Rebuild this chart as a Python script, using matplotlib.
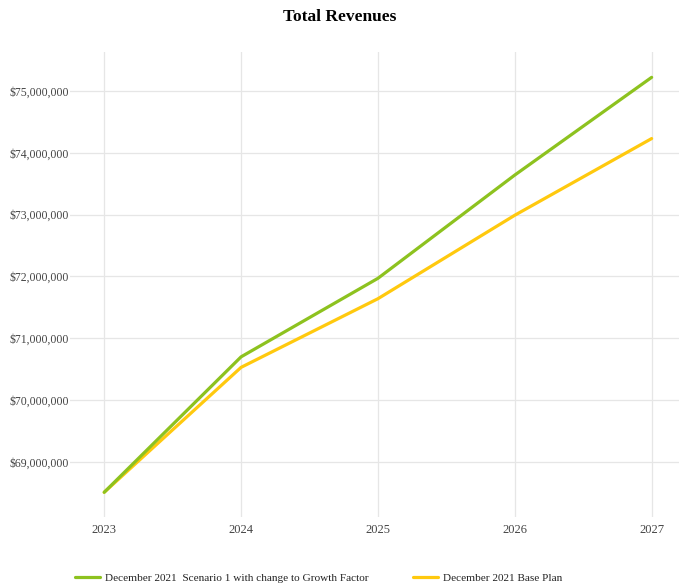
import matplotlib
matplotlib.use('Agg')
from matplotlib import pyplot as plt
from matplotlib.ticker import FuncFormatter

years = [2023, 2024, 2025, 2026, 2027]
scenario1 = [68510000, 70700000, 71970000, 73640000, 75220000]
base_plan = [68510000, 70530000, 71640000, 72990000, 74230000]
yticks = [69000000, 70000000, 71000000, 72000000, 73000000, 74000000, 75000000]

plt.rcParams['font.family'] = ['Liberation Serif', 'DejaVu Serif']

fig = plt.figure(figsize=(6.79, 5.86), dpi=100)
ax = fig.add_axes([70/679, 1 - 517/586, 1 - 70/679, (517 - 52)/586])

ax.plot(years, scenario1, c='#8dc21f', lw=2.3, solid_capstyle='round',
        label='December 2021  Scenario 1 with change to Growth Factor', zorder=3)
ax.plot(years, base_plan, c='#ffc90e', lw=2.3, solid_capstyle='round',
        label='December 2021 Base Plan', zorder=2)

ax.set_xlim(2022.75, 2027.2)
ax.set_ylim(68110000, 75630000)
ax.set_xticks(years)
ax.set_yticks(yticks)
ax.yaxis.set_major_formatter(FuncFormatter(lambda v, p: '${:,.0f}'.format(v)))
ax.grid(True, color='#e6e6e6', lw=0.9)
ax.set_axisbelow(True)
for s in ax.spines.values():
    s.set_visible(False)
ax.tick_params(axis='both', length=0, labelsize=8.5, labelcolor='#444444')
ax.tick_params(axis='x', labelsize=9)
ax.tick_params(axis='y', pad=1)
ax.tick_params(axis='x', pad=5)

fig.suptitle('Total Revenues', y=1 - 17/586, va='center', fontsize=12.5, fontweight='bold')

fig.legend(loc='center left', bbox_to_anchor=(75/679, 1 - 578/586), ncol=2,
           frameon=False, fontsize=8.1, handlelength=2.2, handletextpad=0.45,
           columnspacing=4.0, borderpad=0, borderaxespad=0, labelcolor='#222222')

fig.savefig('out.png', dpi=100)
